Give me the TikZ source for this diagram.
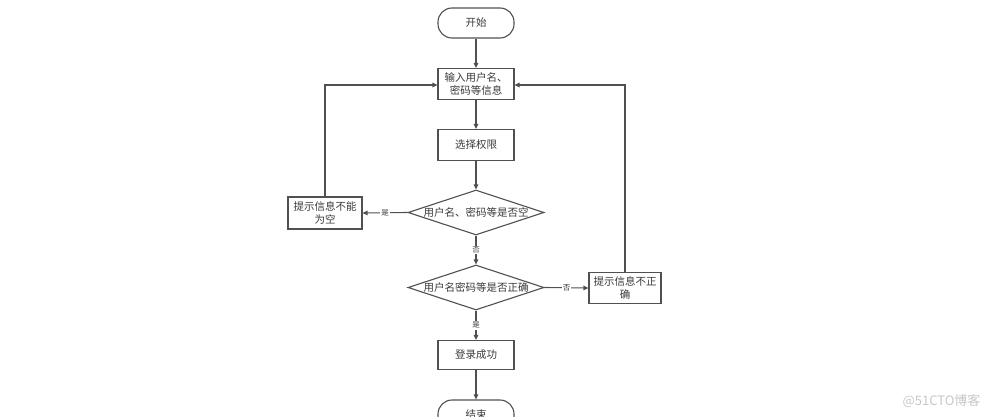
\documentclass[tikz,border=0pt]{standalone}
\usepackage{fontspec}
\setmainfont{Noto Sans CJK SC}
\newfontfamily\wmfont{Noto Sans CJK SC}
\usetikzlibrary{arrows.meta,shapes.geometric}
\definecolor{ln}{HTML}{505050}
\definecolor{tx}{HTML}{3A3A3A}
\tikzset{
  every node/.style={text=tx},
  boxnode/.style={draw=ln, line width=1.1pt, minimum width=76pt, minimum height=31pt, inner sep=1pt, font=\fontsize{10.5}{12.5}\selectfont, align=center},
  termnode/.style={boxnode, rounded corners=14pt, minimum height=30pt},
  dianode/.style={draw=ln, line width=1.1pt, diamond, inner sep=0pt, minimum width=136pt, minimum height=45pt},
  ditext/.style={font=\fontsize{10.5}{12}\selectfont, inner sep=0pt},
  conn/.style={draw=ln, line width=1.1pt, -{Triangle[length=5pt,width=4.5pt]}},
  lab/.style={font=\fontsize{7.5}{8}\selectfont, fill=white, inner sep=1pt}
}
\begin{document}
\begin{tikzpicture}[x=1pt,y=-1pt]
\useasboundingbox (0,0) rectangle (990,417);
\fill[white] (0,0) rectangle (990,417);
\node[termnode] (start) at (476,23) {开始};
\node[boxnode] (input) at (476,84) {输入用户名、\\密码等信息};
\node[boxnode] (sel) at (476,145) {选择权限};
\node[dianode] (d1) at (476,212.5) {};
\node[ditext] at (476,212.5) {用户名、密码等是否空};
\node[boxnode, minimum width=74pt, minimum height=32pt] (empty) at (325,213) {提示信息不能\\为空};
\node[dianode] (d2) at (476,287.5) {};
\node[ditext] at (476,287.5) {用户名密码等是否正确};
\node[boxnode, minimum width=72pt, minimum height=31pt] (wrong) at (625,288) {提示信息不正\\确};
\node[boxnode, minimum height=29pt] (ok) at (476,355) {登录成功};
\node[termnode] (end) at (476,415) {结束};
\coordinate (lt) at (325,85);
\coordinate (rt) at (625,85);

\draw[conn] (start) -- (input);
\draw[conn] (input) -- (sel);
\draw[conn] (sel) -- (d1.north);
\draw[conn] (d1.west) -- node[lab]{是} (empty.east);
\draw[conn] (d1.south) -- node[lab]{否} (d2.north);
\draw[conn] (d2.east) -- node[lab]{否} (wrong.west);
\draw[conn] (d2.south) -- node[lab]{是} (ok.north);
\draw[conn] (ok) -- (end);
\draw[conn] (empty.north) -- (lt) -- (input.west |- lt);
\draw[conn] (wrong.north) -- (rt) -- (input.east |- rt);

\node[text=black!22, font=\wmfont\fontsize{13}{14}\selectfont, anchor=east] (wm) at (984,401) {@51CTO博客};
\end{tikzpicture}
\end{document}
